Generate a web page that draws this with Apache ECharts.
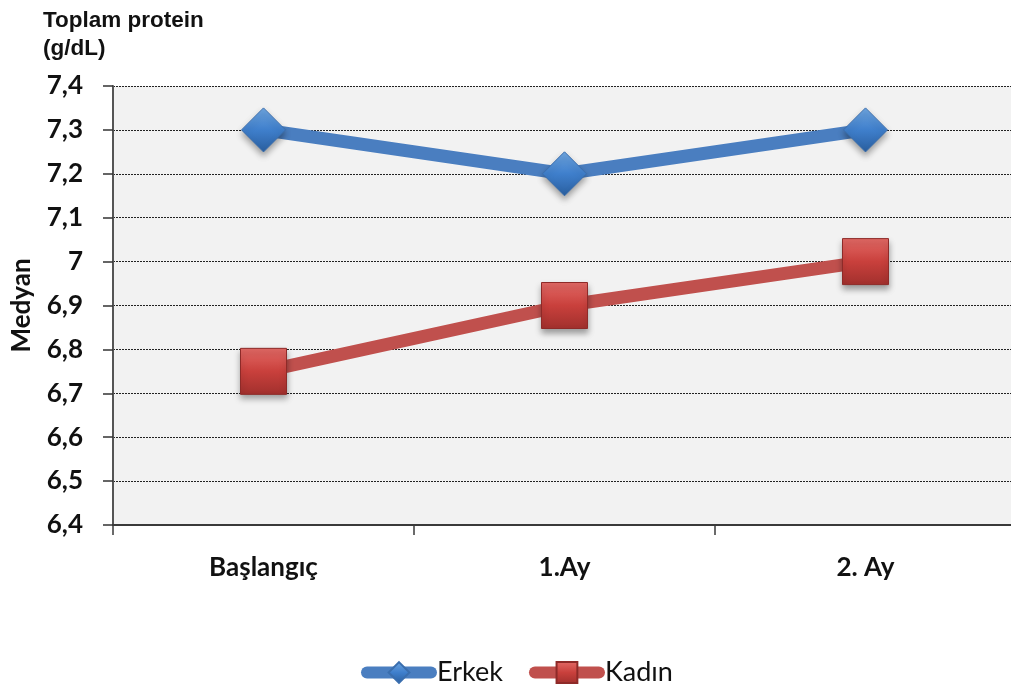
<!DOCTYPE html>
<html>
<head>
<meta charset="utf-8">
<script src="https://cdn.jsdelivr.net/npm/echarts@6/dist/echarts.min.js"></script>
<style>
  html, body { margin: 0; padding: 0; background: #ffffff; }
  #chart { width: 1011px; height: 697px; }
</style>
</head>
<body>
<div id="chart"></div>
<script>
// Median total protein by visit, split by sex
const categories = ['Başlangıç', '1.Ay', '2. Ay'];
const erkek = [7.3, 7.2, 7.3];
const kadin = [6.75, 6.9, 7.0];

const chart = echarts.init(document.getElementById('chart'));

const labelFont = 'Lato, "Open Sans", sans-serif';

function fmt(v) {
  const r = Math.round(v * 10) / 10;
  return Number.isInteger(r) ? String(r) : r.toFixed(1).replace('.', ',');
}

const blueFill = new echarts.graphic.LinearGradient(0, 0, 0, 1, [
  { offset: 0, color: '#6fa6e0' },
  { offset: 0.5, color: '#3f7fcc' },
  { offset: 1, color: '#2a5f9f' }
]);
const redFill = new echarts.graphic.LinearGradient(0, 0, 0, 1, [
  { offset: 0, color: '#e36a66' },
  { offset: 0.5, color: '#c9403c' },
  { offset: 1, color: '#a1302d' }
]);

chart.setOption({
  animation: false,
  title: {
    text: 'Toplam protein\n(g/dL)',
    left: 38,
    top: 2,
    textStyle: {
      fontFamily: '"Liberation Sans", Arial, sans-serif',
      fontSize: 22.5,
      fontWeight: 'bold',
      color: '#111',
      lineHeight: 28
    }
  },
  legend: {
    bottom: 6,
    left: 356,
    itemWidth: 64,
    itemHeight: 26,
    itemGap: 26,
    lineStyle: { width: 12, cap: 'round' },
    textStyle: {
      fontFamily: labelFont,
      fontSize: 27,
      color: '#111',
      padding: [0, 0, 0, 1]
    },
    data: ['Erkek', 'Kadın']
  },
  grid: {
    left: 113,
    right: -5,
    top: 86,
    bottom: 172,
    outerBoundsMode: 'none',
    containLabel: false,
    show: true,
    backgroundColor: '#f2f2f2',
    borderWidth: 0
  },
  xAxis: {
    type: 'category',
    data: categories,
    boundaryGap: true,
    axisLine: { lineStyle: { color: '#3a3a3a', width: 2 } },
    axisTick: { show: true, length: 10, lineStyle: { color: '#3a3a3a', width: 1.5 } },
    axisLabel: {
      margin: 30,
      fontFamily: labelFont,
      fontSize: 26,
      fontWeight: 'bold',
      color: '#111'
    }
  },
  yAxis: {
    type: 'value',
    min: 6.4,
    max: 7.4,
    interval: 0.1,
    name: 'Medyan',
    nameLocation: 'middle',
    nameGap: 78,
    nameRotate: 90,
    nameTextStyle: {
      fontFamily: labelFont,
      fontSize: 26,
      fontWeight: 'bold',
      color: '#111'
    },
    axisLine: { show: true, lineStyle: { color: '#555', width: 2 } },
    axisTick: { show: true, length: 10, lineStyle: { color: '#333', width: 1.5 } },
    axisLabel: {
      margin: 30,
      formatter: fmt,
      fontFamily: labelFont,
      fontSize: 26,
      fontWeight: 'bold',
      color: '#111'
    },
    splitLine: {
      show: true,
      lineStyle: { color: '#222', type: [2, 1], width: 1 }
    }
  },
  series: [
    {
      name: 'Erkek',
      type: 'line',
      data: erkek,
      symbol: 'diamond',
      symbolSize: 44,
      lineStyle: { color: '#4a7ec0', width: 13 },
      itemStyle: {
        color: blueFill,
        borderColor: '#3a6eae',
        borderWidth: 1,
        shadowColor: 'rgba(0,0,0,0.35)',
        shadowBlur: 6,
        shadowOffsetY: 4
      },
      z: 3
    },
    {
      name: 'Kadın',
      type: 'line',
      data: kadin,
      symbol: 'rect',
      symbolSize: 46,
      lineStyle: { color: '#c0504d', width: 13 },
      itemStyle: {
        color: redFill,
        borderColor: '#8e2a28',
        borderWidth: 1,
        shadowColor: 'rgba(0,0,0,0.35)',
        shadowBlur: 6,
        shadowOffsetY: 4
      },
      z: 2
    }
  ]
});
</script>
</body>
</html>
